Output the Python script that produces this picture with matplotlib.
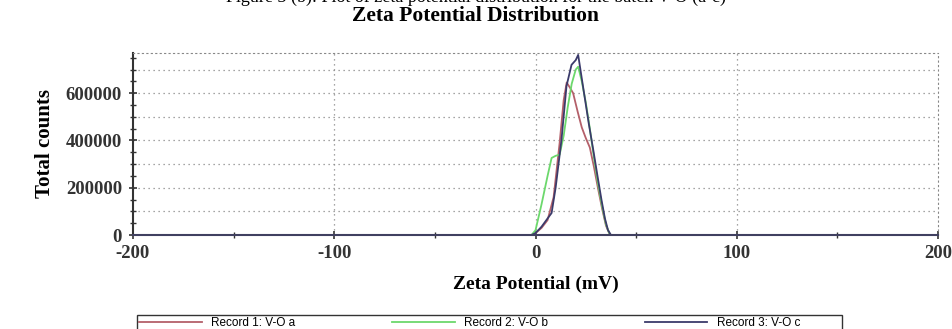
import numpy as np
import matplotlib
matplotlib.use("Agg")
import matplotlib.pyplot as plt
from matplotlib.ticker import MultipleLocator
from matplotlib.patches import Rectangle

# Zeta potential (mV) and total counts
zeta_a = [-2, 0, 3, 6, 9, 12, 14, 15.5, 17, 18.7, 21, 23, 25, 27, 29, 31, 33, 35, 37, 40]
counts_a = [0, 8000, 30000, 63000, 160000, 390000, 570000, 645000, 625000, 600000,
            520000, 455000, 410000, 370000, 290000, 200000, 115000, 40000, 0, 0]

zeta_b = [-2, 0, 3, 6, 8, 10, 12, 14, 16, 18, 20, 21.2, 23, 25, 27, 29, 31, 33, 35, 37, 40]
counts_b = [0, 20000, 130000, 250000, 326000, 335000, 340000, 420000, 540000, 640000,
            700000, 712000, 650000, 560000, 450000, 330000, 220000, 125000, 45000, 0, 0]

zeta_c = [-2, 0, 3, 6, 8, 10, 12.9, 15.4, 17.9, 20, 21.2, 22.5, 24.4, 26.5, 28.7, 30.8,
          32.8, 34.5, 36, 37.5, 40]
counts_c = [0, 8000, 35000, 70000, 93000, 200000, 402000, 630000, 720000, 740000, 762000,
            690000, 585000, 470000, 360000, 250000, 148000, 70000, 21000, 0, 0]

labels = ["Record 1: V-O a", "Record 2: V-O b", "Record 3: V-O c"]
colors = ["#b4606a", "#6cd86c", "#3b3b6b"]

serif = "Liberation Serif"
plt.rcParams["axes.unicode_minus"] = False

fig = plt.figure(figsize=(9.52, 3.29), dpi=100)
ax = fig.add_axes([133 / 952, 1 - 235 / 329, (938 - 133) / 952, (235 - 53) / 329])

lines = []
for zx, cy, c, lab in zip([zeta_a, zeta_b, zeta_c], [counts_a, counts_b, counts_c], colors, labels):
    ln, = ax.plot(zx, cy, color=c, lw=1.3, label=lab)
    lines.append(ln)

ax.set_xlim(-200, 200)
ax.set_ylim(0, 770000)
ax.xaxis.set_major_locator(MultipleLocator(100))
ax.xaxis.set_minor_locator(MultipleLocator(50))
ax.yaxis.set_major_locator(MultipleLocator(200000))
ax.yaxis.set_minor_locator(MultipleLocator(50000))

# dotted grid
for gx in [-100, 0, 100]:
    ax.axvline(gx, color="#888888", lw=0.9, ls=(0, (1, 3)), zorder=0)
for gy in range(100000, 800000, 100000):
    ax.axhline(gy, color="#888888", lw=0.9, ls=(0, (1, 3)), zorder=0)

for s in ["top", "right"]:
    ax.spines[s].set_linestyle((0, (1, 3)))
    ax.spines[s].set_color("#888888")
ax.spines["left"].set_color("#333333")
ax.spines["left"].set_linewidth(1.5)
ax.spines["bottom"].set_color("#404060")
ax.spines["bottom"].set_linewidth(1.5)

ax.tick_params(which="both", direction="inout", top=False, right=False, colors="#333333")
ax.tick_params(which="major", length=6, width=1.2)
ax.tick_params(which="minor", length=4, width=1)
for lab in ax.get_xticklabels() + ax.get_yticklabels():
    lab.set_fontfamily(serif)
    lab.set_fontweight("bold")
    lab.set_fontsize(13.5)
ax.tick_params(axis="x", pad=4)
ax.tick_params(axis="y", pad=5)

ax.set_xlabel("Zeta Potential (mV)", fontfamily=serif, fontweight="bold", fontsize=14, labelpad=10)
ax.set_ylabel("Total counts", fontfamily=serif, fontweight="bold", fontsize=15, labelpad=8)

fig.text(0.5, 1 - 16 / 329, "Zeta Potential Distribution", ha="center", va="center",
         fontfamily=serif, fontweight="bold", fontsize=15.5)
fig.text(0.5, 1 + 3 / 329, "Figure 3 (b): Plot of zeta potential distribution for the batch V-O (a-c)",
         ha="center", va="center", fontfamily=serif, fontsize=13)

# legend box, cut off by the bottom edge as in the reference
fig.patches.append(Rectangle((137 / 952, -0.05), (842 - 137) / 952, 0.05 + 1 - 315 / 329,
                             transform=fig.transFigure, fill=False, edgecolor="#333333", lw=1.0))
leg = fig.legend(handles=lines, loc="center left", ncol=3, frameon=False,
                 bbox_to_anchor=(139 / 952, 1 - 323 / 329), handlelength=5.3,
                 handletextpad=0.8, columnspacing=8.2,
                 prop={"family": "Liberation Sans", "size": 8.5}, borderaxespad=0, borderpad=0)

fig.savefig("out.png", dpi=100)
